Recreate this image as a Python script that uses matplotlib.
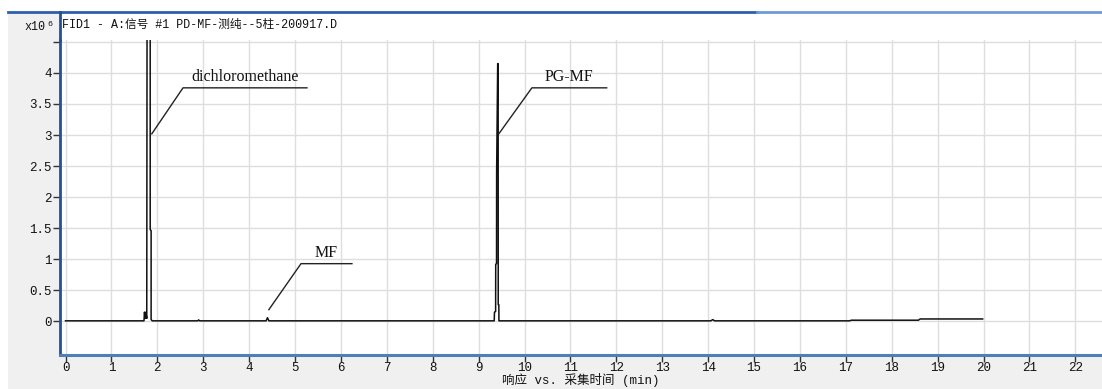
"""
GC-FID chromatogram: FID1 signal vs. retention time (PD-MF purity run).
"""

import numpy as np
import matplotlib.pyplot as plt
from matplotlib.patches import Rectangle
from matplotlib.lines import Line2D

# Trace vertices (time in min, response in x10^6)
time_min = [0.00, 1.71, 1.72, 1.735, 1.75, 1.77, 1.778, 1.80, 1.845, 1.845,
            1.865, 1.865, 1.89, 2.88, 2.90, 2.92, 4.37, 4.40, 4.43,
            9.34, 9.345, 9.37, 9.372, 9.39, 9.392, 9.415, 9.425, 9.427,
            9.44, 9.442, 9.46, 14.06, 14.10, 14.14, 17.08, 17.12, 18.58,
            18.62, 19.98]
response = [0.01, 0.01, 0.15, 0.05, 0.15, 0.05, 6.00, 6.00, 6.00, 1.48,
            1.46, 0.03, 0.01, 0.01, 0.025, 0.01, 0.01, 0.06, 0.01,
            0.01, 0.15, 0.16, 0.92, 0.93, 2.40, 4.15, 4.15, 0.27,
            0.27, 0.01, 0.01, 0.01, 0.03, 0.01, 0.01, 0.02, 0.02,
            0.04, 0.04]

# Peak labels: name, leader start (on peak), knee, end of underline
peak_names = ["dichloromethane", "MF", "PG-MF"]
leader_start = [(1.88, 3.02), (4.43, 0.19), (9.44, 3.02)]
leader_knee = [(2.56, 3.76), (5.13, 0.93), (10.16, 3.76)]
leader_end = [(5.26, 3.76), (6.24, 0.93), (11.79, 3.76)]

x_ticks = list(range(0, 23))
y_ticks = [0, 0.5, 1, 1.5, 2, 2.5, 3, 3.5, 4, 4.5]
y_tick_labels = ["0", "0.5", "1", "1.5", "2", "2.5", "3", "3.5", "4", ""]

title_text = "FID1 - A:信号 #1 PD-MF-测纯--5柱-200917.D"
x_label = "响应 vs. 采集时间 (min)"

MONO = ["Liberation Mono", "Noto Sans CJK SC"]
W, H = 1102, 389

fig = plt.figure(figsize=(W / 100, H / 100), dpi=100, facecolor="#f0f0f0")

# white strips at top/left edge of the window
fig.patches.append(Rectangle((0, (H - 12) / H), 1, 12 / H, transform=fig.transFigure,
                             facecolor="white", edgecolor="none", zorder=0))
fig.patches.append(Rectangle((0, 0), 8 / W, 1, transform=fig.transFigure,
                             facecolor="white", edgecolor="none", zorder=0))
# title band above the plot area
fig.patches.append(Rectangle((60 / W, (H - 40) / H), (W - 60) / W, 28 / H,
                             transform=fig.transFigure, facecolor="white",
                             edgecolor="none", zorder=1))
# blue window line at top
fig.lines.append(Line2D([8 / W, 757 / W], [(H - 12) / H] * 2, transform=fig.transFigure,
                        color="#2f5fa8", lw=2, zorder=3))
fig.lines.append(Line2D([757 / W, 1], [(H - 12) / H] * 2, transform=fig.transFigure,
                        color="#6f9ad6", lw=2, zorder=3))
# left spine continues through the title band
fig.lines.append(Line2D([60 / W] * 2, [(H - 40) / H, (H - 12) / H], transform=fig.transFigure,
                        color="#2a4f8f", lw=2, zorder=3))

ax = fig.add_axes([60 / W, (H - 355) / H, (W - 60) / W, (355 - 40) / H])
ax.set_facecolor("white")
ax.plot(time_min, response, color="#111111", lw=1.1, zorder=3)

for name, s, k, e in zip(peak_names, leader_start, leader_knee, leader_end):
    ax.plot([s[0], k[0], e[0]], [s[1], k[1], e[1]], color="#222222", lw=1.0, zorder=4)
    ax.text((k[0] + e[0]) / 2, k[1] + 0.04, name, ha="center", va="bottom",
            family="Liberation Serif", fontsize=11.5, color="#111111", zorder=5)

ax.set_xlim(-0.12, 22.58)
ax.set_ylim(-0.54, 4.53)
ax.set_xticks(x_ticks)
ax.set_yticks(y_ticks)
ax.set_yticklabels(y_tick_labels)
ax.grid(True, color="#dedede", lw=1.0, zorder=0)
ax.set_axisbelow(True)

for side in ["top", "right"]:
    ax.spines[side].set_visible(False)
ax.spines["left"].set_color("#2a4f8f")
ax.spines["left"].set_linewidth(2)
ax.spines["bottom"].set_color("#4f7fb8")
ax.spines["bottom"].set_linewidth(2.2)

ax.tick_params(axis="both", direction="out", length=5, width=1, color="#333333",
               labelsize=9, labelcolor="#111111", pad=1)
ax.tick_params(axis="x", pad=0)
for lbl in ax.get_xticklabels() + ax.get_yticklabels():
    lbl.set_family(MONO)

# axis title placed directly under the tick labels
fig.text((60 + W) / 2 / W, (H - 380) / H, x_label, family=MONO, fontsize=9,
         color="#111111", ha="center", va="center")

fig.text(62 / W, (H - 25) / H, title_text, family=MONO, fontsize=8.4,
         color="#111111", va="center", ha="left", zorder=6)
fig.text(45 / W, (H - 27) / H, "x10", family=MONO, fontsize=8.5,
         color="#111111", va="center", ha="right")
fig.text(47 / W, (H - 24) / H, "6", family=MONO, fontsize=6,
         color="#111111", va="center", ha="left")

fig.savefig("out.png", dpi=100, facecolor=fig.get_facecolor())
